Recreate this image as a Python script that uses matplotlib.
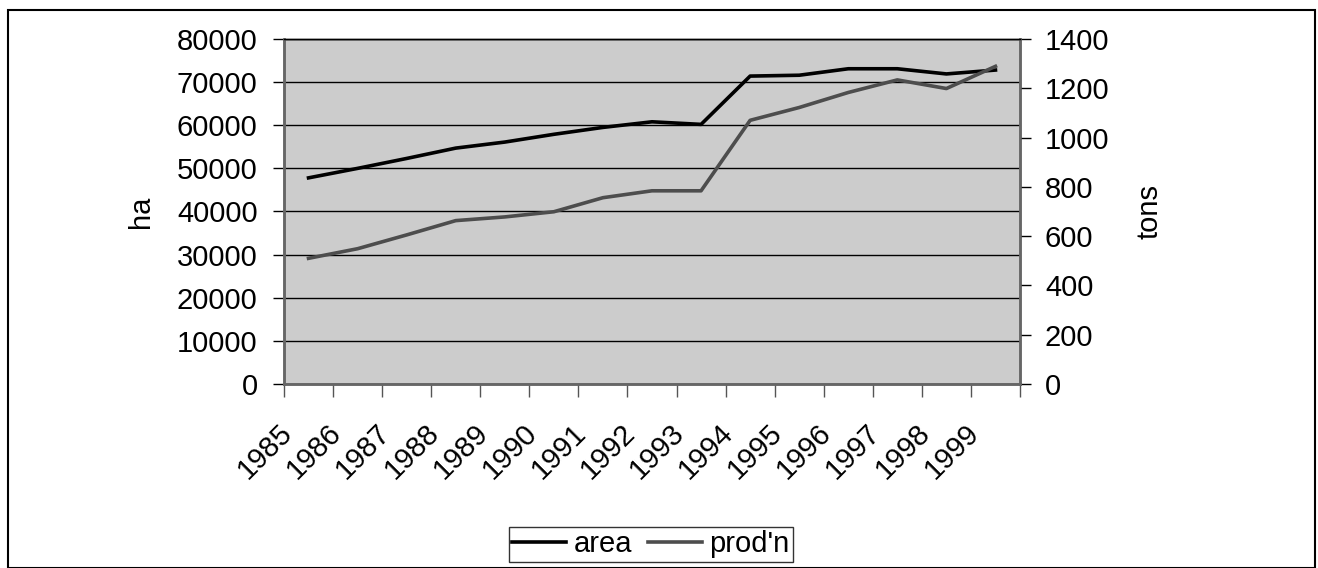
import matplotlib
matplotlib.use("Agg")
import matplotlib.pyplot as plt
from matplotlib.patches import Rectangle
from matplotlib.transforms import ScaledTranslation

plt.rcParams['font.family'] = ['Liberation Sans', 'DejaVu Sans']

years = ["1985", "1986", "1987", "1988", "1989", "1990", "1991", "1992",
         "1993", "1994", "1995", "1996", "1997", "1998", "1999"]
area_ha = [47800, 50000, 52300, 54700, 56100, 57900, 59500, 60800,
           60200, 71400, 71600, 73100, 73100, 71900, 72800]
prodn_tons = [510, 549, 605, 663, 678, 699, 756, 784,
              784, 1070, 1122, 1183, 1234, 1199, 1289]

W, H = 1318, 568
fig = plt.figure(figsize=(W / 100, H / 100), dpi=100)
fig.patch.set_facecolor("white")

# outer chart frame
fig.add_artist(Rectangle((8 / W, 0.0), (1315 - 8) / W, 1 - 10 / H,
                         transform=fig.transFigure, fill=False,
                         edgecolor="black", linewidth=1.5))

left, right, top, bottom = 284, 1020, 39, 384
ax = fig.add_axes([left / W, 1 - bottom / H, (right - left) / W, (bottom - top) / H])
ax.set_facecolor("#cccccc")

x = list(range(len(years)))
fs = 21

l1, = ax.plot(x, area_ha, color="black", linewidth=2.6, label="area",
              solid_joinstyle="round", zorder=3)
ax.set_xlim(-0.5, len(years) - 0.5)
ax.set_ylim(0, 80000)
ax.set_yticks(range(0, 80001, 10000))
ax.grid(axis="y", color="black", linewidth=1.0)
ax.set_axisbelow(True)

# category ticks at slot boundaries, labels at slot centres
ax.set_xticks([i - 0.5 for i in range(len(years) + 1)])
ax.set_xticklabels([])
ax.set_xticks(x, minor=True)
ax.set_xticklabels(years, minor=True, rotation=45, ha="right", va="top",
                   rotation_mode="anchor", fontsize=fs)
ax.tick_params(axis="x", which="major", direction="out", length=9, width=1,
               color="#555555")
ax.tick_params(axis="x", which="minor", length=0, pad=25)
shift = ScaledTranslation(-31 / 100, 0, fig.dpi_scale_trans)
for lab in ax.get_xticklabels(minor=True):
    lab.set_transform(lab.get_transform() + shift)
ax.tick_params(axis="y", direction="out", length=8, width=1, labelsize=fs, pad=11)

ax2 = ax.twinx()
l2, = ax2.plot(x, prodn_tons, color="#4d4d4d", linewidth=2.6, label="prod'n",
               solid_joinstyle="round", zorder=3)
ax2.set_ylim(0, 1400)
ax2.set_yticks(range(0, 1401, 200))
ax2.tick_params(axis="y", direction="out", length=8, width=1, labelsize=fs, pad=10)

for a in (ax, ax2):
    for side in ("left", "right", "bottom"):
        a.spines[side].set_color("#666666")
        a.spines[side].set_linewidth(1.8)
    a.spines["top"].set_color("black")
    a.spines["top"].set_linewidth(1.0)

ax.set_ylabel("ha", fontsize=fs)
ax.yaxis.set_label_coords((155 - left) / (right - left), 0.5)
ax2.set_ylabel("tons", fontsize=fs, rotation=90)
ax2.yaxis.set_label_coords((1135 - left) / (right - left), 0.5)

leg = fig.legend(handles=[l1, l2], labels=["area", "prod'n"], loc="center",
                 bbox_to_anchor=(651 / W, 1 - 544 / H), ncol=2, fontsize=fs,
                 frameon=True, fancybox=False, edgecolor="black",
                 handlelength=1.85, handletextpad=0.25, columnspacing=0.55,
                 borderpad=0.12, borderaxespad=0)
leg.get_frame().set_linewidth(1.0)

fig.savefig("out.png", dpi=100, facecolor="white")
